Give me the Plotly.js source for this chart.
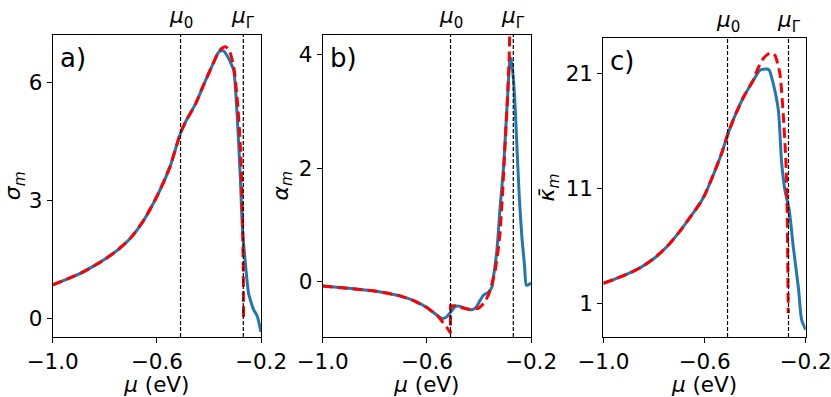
<!DOCTYPE html>
<html>
<head>
<meta charset="utf-8">
<script src="https://cdn.plot.ly/plotly-3.0.1.min.js"></script>
<style>body{margin:0;background:#fff} #chart{width:831px;height:397px}</style>
</head>
<body>
<div id="chart"></div>
<script>
// special chemical potentials (eV)
let mu0 = -0.509
let muG = -0.268

// a) sigma_m
let muA_num = [-1.0,-0.95,-0.9,-0.85,-0.8,-0.75,-0.7,-0.65,-0.6,-0.55,-0.51,-0.49,-0.45,-0.42,-0.39,-0.365,-0.357,-0.344,-0.331,-0.318,-0.305,-0.292,-0.279,-0.271,-0.26,-0.248,-0.238,-0.228,-0.215,-0.2]
let sigma_num = [0.85,0.98,1.12,1.30,1.50,1.74,2.05,2.50,3.10,3.85,4.70,5.00,5.48,5.95,6.40,6.76,6.81,6.81,6.70,6.53,6.32,5.22,3.52,2.25,1.40,0.64,0.40,0.21,0.06,-0.35]
let muA_fit = [-1.0,-0.95,-0.9,-0.85,-0.8,-0.75,-0.7,-0.65,-0.6,-0.55,-0.51,-0.49,-0.45,-0.42,-0.39,-0.365,-0.35,-0.337,-0.322,-0.305,-0.292,-0.279,-0.273,-0.27,-0.268,-0.267]
let sigma_fit = [0.85,0.98,1.12,1.30,1.50,1.74,2.05,2.50,3.10,3.85,4.70,5.00,5.48,5.95,6.40,6.76,6.88,6.92,6.83,6.41,5.64,4.37,3.10,2.20,1.20,0.0]

// b) alpha_m
let muB_num = [-1.0,-0.9,-0.8,-0.75,-0.7,-0.65,-0.6,-0.56,-0.54,-0.525,-0.51,-0.49,-0.472,-0.45,-0.427,-0.41,-0.395,-0.382,-0.363,-0.35,-0.344,-0.331,-0.318,-0.305,-0.297,-0.29,-0.284,-0.28,-0.274,-0.267,-0.26,-0.254,-0.245,-0.235,-0.225,-0.218,-0.21,-0.2]
let alpha_num = [-0.07,-0.11,-0.16,-0.20,-0.25,-0.33,-0.45,-0.59,-0.645,-0.62,-0.54,-0.43,-0.43,-0.47,-0.49,-0.44,-0.32,-0.23,-0.18,-0.09,0.09,0.56,1.35,2.05,2.70,3.26,3.75,3.96,3.85,3.55,3.0,2.38,1.50,0.79,0.30,-0.06,-0.05,-0.02]
let muB_fit = [-1.0,-0.9,-0.8,-0.75,-0.7,-0.65,-0.6,-0.56,-0.54,-0.52,-0.5095,-0.509,-0.49,-0.47,-0.44,-0.42,-0.4,-0.388,-0.375,-0.363,-0.35,-0.337,-0.325,-0.318,-0.31,-0.303,-0.296,-0.29,-0.284,-0.28,-0.275,-0.271]
let alpha_fit = [-0.07,-0.11,-0.16,-0.20,-0.25,-0.33,-0.45,-0.59,-0.70,-0.82,-0.90,-0.42,-0.42,-0.45,-0.48,-0.48,-0.46,-0.41,-0.33,-0.23,-0.03,0.21,0.60,0.91,1.50,2.08,2.70,3.26,3.90,4.43,5.20,6.50]

// c) kappa_m
let muC_num = [-1.0,-0.95,-0.9,-0.85,-0.8,-0.75,-0.7,-0.65,-0.618,-0.6,-0.565,-0.53,-0.51,-0.486,-0.447,-0.407,-0.381,-0.354,-0.344,-0.328,-0.308,-0.295,-0.282,-0.265,-0.249,-0.229,-0.216,-0.2]
let kappa_num = [2.74,3.15,3.60,4.15,4.90,5.90,7.20,8.70,9.70,10.4,12.2,14.2,15.6,17.0,18.9,20.4,21.3,21.4,21.3,20.1,17.8,13.2,10.85,9.1,5.9,2.4,-0.45,-1.3]
let muC_fit = [-1.0,-0.95,-0.9,-0.85,-0.8,-0.75,-0.7,-0.65,-0.618,-0.6,-0.565,-0.53,-0.51,-0.486,-0.447,-0.407,-0.39,-0.368,-0.341,-0.322,-0.302,-0.289,-0.278,-0.273,-0.271,-0.269]
let kappa_fit = [2.74,3.15,3.60,4.15,4.90,5.90,7.20,8.70,9.70,10.4,12.2,14.2,15.6,17.0,18.9,20.45,21.4,22.3,22.8,22.6,21.0,17.5,13.2,8.8,5.0,0.13]

let xTicks = [-1.0, -0.6, -0.2]
let xTickText = ['\u22121.0', '\u22120.6', '\u22120.2']
let yTicksA = [0, 3, 6]
let yTicksB = [0, 2, 4]
let yTicksC = [1, 11, 21]

let font = 'DejaVu Sans, sans-serif'
let blue = '#1f77b4'
let fs = 21.5

let mkTraces = function(xa, ya, mx1, y1, mx2, y2, redShape) {
  return [
    {x: mx1, y: y1, xaxis: xa, yaxis: ya, mode: 'lines', type: 'scatter',
     line: {color: blue, width: 3, shape: 'spline', smoothing: 0.6}, hoverinfo: 'skip'},
    {x: mx2, y: y2, xaxis: xa, yaxis: ya, mode: 'lines', type: 'scatter',
     line: {color: 'red', width: 3, dash: '10px,5px', shape: redShape, smoothing: 0.6}, hoverinfo: 'skip'}
  ]
}

let data = [].concat(
  mkTraces('x', 'y', muA_num, sigma_num, muA_fit, sigma_fit, 'spline'),
  mkTraces('x2', 'y2', muB_num, alpha_num, muB_fit, alpha_fit, 'linear'),
  mkTraces('x3', 'y3', muC_num, kappa_num, muC_fit, kappa_fit, 'spline')
)

let xAxis = function(dom, anchor) {
  return {
    domain: dom, anchor: anchor, range: [-1.0, -0.2],
    tickvals: xTicks, ticktext: xTickText, ticklabeloverflow: 'allow',
    ticks: 'outside', ticklen: 5, tickcolor: '#000',
    showline: true, mirror: true, linecolor: '#000', linewidth: 1,
    showgrid: false, zeroline: false,
    tickfont: {size: fs, color: '#000'},
    title: {text: '<i>\u03bc</i> (eV)', font: {size: fs, color: '#000'}, standoff: 0}
  }
}
let yAxis = function(dom, anchor, rng, ticks, title) {
  return {
    domain: dom, anchor: anchor, range: rng,
    tickvals: ticks, ticklabeloverflow: 'allow',
    ticks: 'outside', ticklen: 5, tickcolor: '#000',
    showline: true, mirror: true, linecolor: '#000', linewidth: 1,
    showgrid: false, zeroline: false,
    tickfont: {size: fs, color: '#000'},
    title: {text: title, font: {size: 22, color: '#000'}, standoff: 4}
  }
}

let yDomAB = [1 - 337/397, 1 - 34.5/397]
let yDomC = [1 - 337/397, 1 - 38/397]

let shapes = []
let annotations = []
let axPairs = [['x', 'y', 'a)'], ['x2', 'y2', 'b)'], ['x3', 'y3', 'c)']]
axPairs.forEach(function(p) {
  [mu0, muG].forEach(function(m) {
    shapes.push({type: 'line', xref: p[0], yref: p[1] + ' domain', x0: m, x1: m, y0: 0, y1: 1,
      line: {color: '#000', width: 1.2, dash: '4px,2px'}})
  })
  annotations.push({xref: p[0], yref: p[1] + ' domain', x: mu0, y: 1, yanchor: 'bottom', yshift: 0,
    text: '<i>\u03bc</i><sub>0</sub>', showarrow: false, font: {size: fs, color: '#000'}})
  annotations.push({xref: p[0], yref: p[1] + ' domain', x: muG, y: 1, yanchor: 'bottom', yshift: 0,
    text: '<i>\u03bc</i><sub>\u0393</sub>', showarrow: false, font: {size: fs, color: '#000'}})
  annotations.push({xref: p[0] + ' domain', yref: p[1] + ' domain', x: 0.025, y: 0.98,
    xanchor: 'left', yanchor: 'top', text: p[2], showarrow: false, font: {size: 26, color: '#000'}})
})

let layout = {
  width: 831, height: 397,
  margin: {l: 0, r: 0, t: 0, b: 0},
  paper_bgcolor: '#fff', plot_bgcolor: '#fff',
  font: {family: font, color: '#000'},
  showlegend: false,
  xaxis: xAxis([52.7/831, 261/831], 'y'),
  yaxis: yAxis(yDomAB, 'x', [-0.48, 7.23], yTicksA, '<i>\u03c3</i><sub><i>m</i></sub>'),
  xaxis2: xAxis([322.7/831, 531/831], 'y2'),
  yaxis2: yAxis(yDomAB, 'x2', [-0.97, 4.36], yTicksB, '<i>\u03b1</i><sub><i>m</i></sub>'),
  xaxis3: xAxis([603.3/831, 805.7/831], 'y3'),
  yaxis3: yAxis(yDomC, 'x3', [-1.93, 24.1], yTicksC, '<i>\u03ba\u0304</i><sub><i>m</i></sub>'),
  shapes: shapes,
  annotations: annotations
}

Plotly.newPlot('chart', data, layout, {staticPlot: true})
</script>
</body>
</html>
